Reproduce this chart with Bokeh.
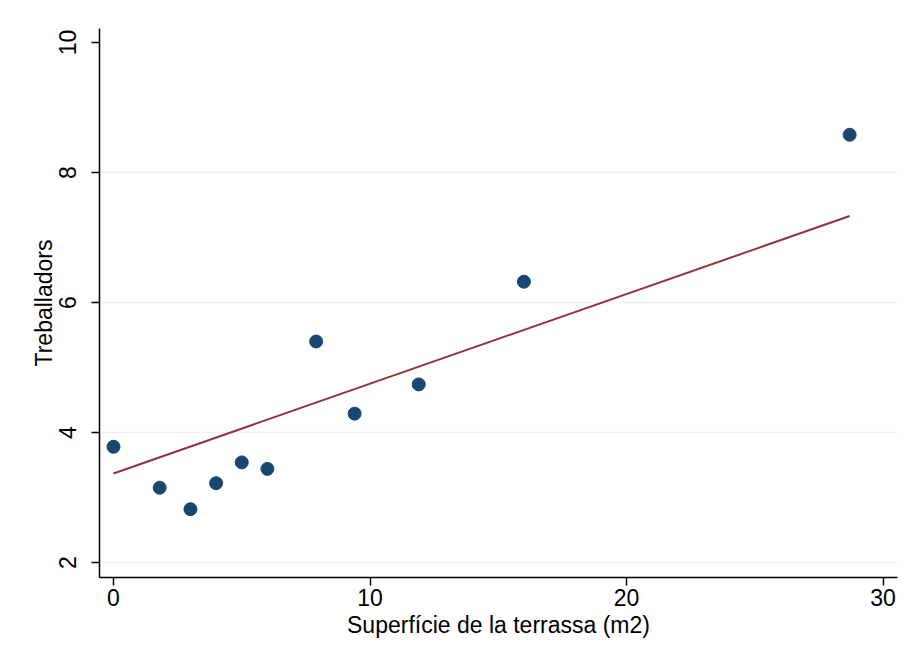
import numpy as np
from bokeh.plotting import figure
from bokeh.models import FixedTicker, Range1d, BoxAnnotation
from bokeh.embed import file_html
from bokeh.resources import INLINE

# data
superficie = [0.0, 1.8, 3.0, 4.0, 5.0, 6.0, 7.9, 9.4, 11.9, 16.0, 28.7]
treballadors = [3.78, 3.15, 2.82, 3.22, 3.54, 3.44, 5.40, 4.29, 4.74, 6.32, 8.58]
# fitted line (as drawn in the reference)
fit_x = [0.0, 28.7]
fit_y = [3.37, 7.33]
x_ticks = [0, 10, 20, 30]
y_ticks = [2, 4, 6, 8, 10]
grid_ticks = [2, 4, 6, 8]

FONT = "Liberation Sans"

p = figure(width=908, height=663, output_backend="svg", toolbar_location=None,
           frame_width=798, frame_height=549,
           x_range=Range1d(-0.546, 30.565), y_range=Range1d(1.769, 10.215),
           min_border_left=99, min_border_top=28, min_border_right=11, min_border_bottom=86)
p.outline_line_color = None
p.background_fill_color = "white"
p.border_fill_color = "white"

# outer graph frame (Stata-style)
frame = BoxAnnotation(left=10, right=930, top=5, bottom=700,
                      left_units="canvas", right_units="canvas",
                      top_units="canvas", bottom_units="canvas",
                      fill_color=None, line_color="#e6eef0", line_width=1.5,
                      level="underlay", editable=False)
p.add_layout(frame)

p.line(fit_x, fit_y, line_color="#90353b", line_width=2)
p.scatter(superficie, treballadors, size=13, fill_color="#1a476f", line_color="#1a476f")

p.xgrid.visible = False
p.ygrid.ticker = FixedTicker(ticks=grid_ticks)
p.ygrid.grid_line_color = "#eaf2f3"
p.ygrid.grid_line_width = 1.5

p.xaxis.ticker = FixedTicker(ticks=x_ticks)
p.yaxis.ticker = FixedTicker(ticks=y_ticks)
p.xaxis.minor_tick_line_color = None
p.yaxis.minor_tick_line_color = None

for ax in (p.xaxis, p.yaxis):
    ax.axis_line_color = "black"
    ax.axis_line_width = 1.5
    ax.major_tick_line_color = "black"
    ax.major_tick_line_width = 1.5
    ax.major_tick_out = 8
    ax.major_tick_in = 0
    ax.major_label_text_font = FONT
    ax.major_label_text_font_size = "23px"
    ax.major_label_text_color = "black"
    ax.axis_label_text_font = FONT
    ax.axis_label_text_font_size = "23px"
    ax.axis_label_text_font_style = "normal"
    ax.axis_label_text_color = "black"

p.xaxis.axis_label = "Superfície de la terrassa (m2)"
p.yaxis.axis_label = "Treballadors"
p.yaxis.major_label_orientation = "vertical"
p.xaxis.major_label_standoff = 3
p.yaxis.major_label_standoff = 15
p.xaxis.axis_label_standoff = 3
p.yaxis.axis_label_standoff = 0

open("out.html", "w").write(file_html(p, INLINE))
